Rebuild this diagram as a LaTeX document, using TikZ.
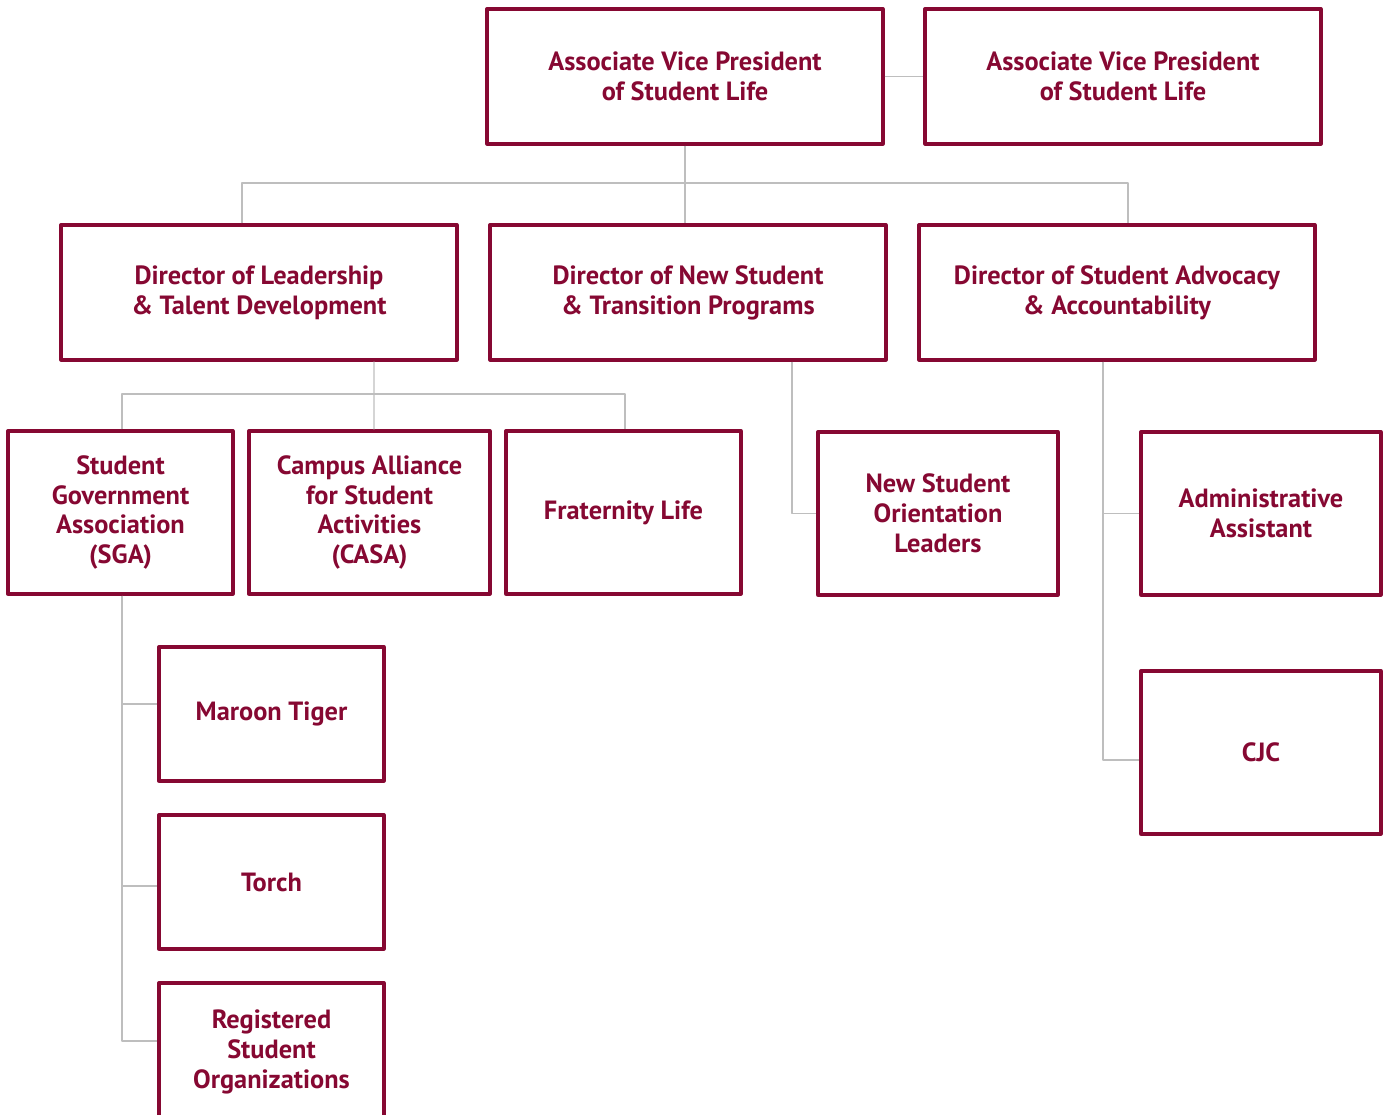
\documentclass[tikz,border=0pt]{standalone}
\usepackage{fontspec}
\setsansfont{PT Sans}
\definecolor{maroon}{RGB}{134,8,50}
\definecolor{linegray}{RGB}{190,190,190}
\begin{document}
\begin{tikzpicture}[x=0.02cm,y=-0.02cm,line join=round,
    box/.style={draw=maroon,line width=1.9pt,text=maroon,font=\sffamily\bfseries\fontsize{15}{17}\selectfont,align=center,inner sep=0pt},
    bigbox/.style={box,minimum width=7.92cm,minimum height=2.7cm},
    smallbox/.style={box,minimum width=4.5cm,minimum height=3.26cm},
    conn/.style={draw=linegray,line width=0.8pt}]
    \useasboundingbox (0,0) rectangle (1387,1115);
    \clip (0,0) rectangle (1387,1115);
    % top row
    \node[bigbox] (avpa) at (685,76.5) {Associate Vice President\\of Student Life};
    \node[bigbox] (avpb) at (1123,76.5) {Associate Vice President\\of Student Life};
    % directors
    \node[bigbox] (dirlead) at (259,292.5) {Director of Leadership\\\& Talent Development};
    \node[bigbox] (dirnew) at (688,292.5) {Director of New Student\\\& Transition Programs};
    \node[bigbox] (diradv) at (1117,292.5) {Director of Student Advocacy\\\& Accountability};
    % third row
    \node[smallbox] (sga) at (120.5,512.5) {Student\\Government\\Association\\(SGA)};
    \node[smallbox,minimum width=4.82cm] (casa) at (369.5,512.5) {Campus Alliance\\for Student\\Activities\\(CASA)};
    \node[smallbox,minimum width=4.7cm] (frat) at (623.5,512.5) {Fraternity Life};
    \node[smallbox,minimum width=4.8cm] (nsol) at (938,513.5) {New Student\\Orientation\\Leaders};
    \node[smallbox,minimum width=4.8cm] (admin) at (1261,513.5) {Administrative\\Assistant};
    \node[smallbox,minimum width=4.8cm] (cjc) at (1261,752.5) {CJC};
    % under SGA
    \node[smallbox,minimum height=2.68cm] (maroon) at (271.5,714) {Maroon Tiger};
    \node[smallbox,minimum height=2.68cm] (torch) at (271.5,882) {Torch};
    \node[smallbox,minimum height=2.76cm] (rso) at (271.5,1052) {Registered\\Student\\Organizations};
    % connectors
    \coordinate (tbus) at (685,183);
    \coordinate (lbus) at (374,394);
    \draw[conn] (avpa) -- (avpb);
    \draw[conn] (avpa.south) -- (avpa.south |- dirnew.north);
    \draw[conn] ([xshift=-0.34cm]dirlead.north) |- (tbus) -| ([xshift=0.22cm]diradv.north);
    \draw[conn] ([xshift=2.3cm]dirlead.south) -- (lbus) -- (lbus |- casa.north);
    \draw[conn] ([xshift=0.03cm]sga.north) |- (lbus) -| ([xshift=0.03cm]frat.north);
    \draw[conn] ([xshift=2.08cm]dirnew.south) |- (nsol.west);
    \draw[conn] ([xshift=-0.28cm]diradv.south) |- (admin.west);
    \draw[conn] ([xshift=-0.28cm]diradv.south) |- ([yshift=-0.15cm]cjc.west);
    \draw[conn] ([xshift=0.03cm]sga.south) |- ([yshift=0.2cm]maroon.west);
    \draw[conn] ([xshift=0.03cm]sga.south) |- ([yshift=-0.08cm]torch.west);
    \draw[conn] ([xshift=0.03cm]sga.south) |- ([yshift=0.22cm]rso.west);
\end{tikzpicture}
\end{document}
